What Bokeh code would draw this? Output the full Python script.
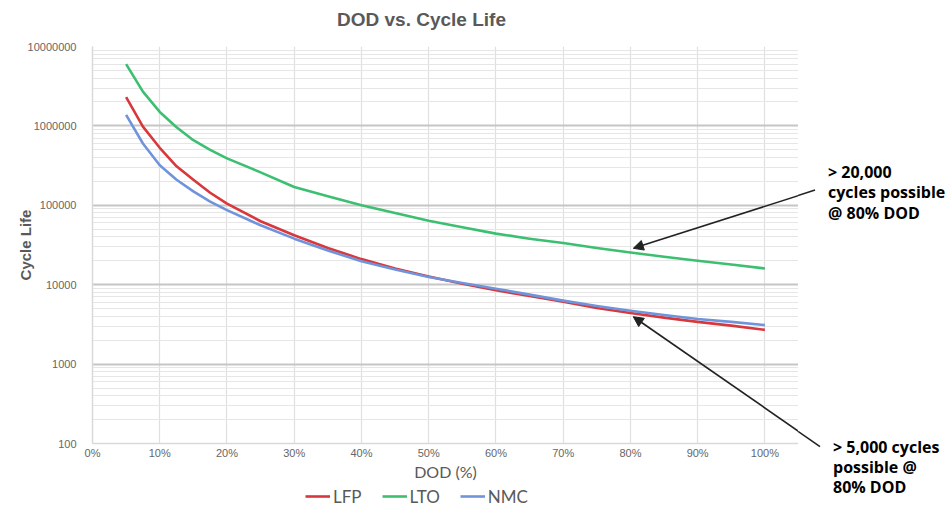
from bokeh.plotting import figure
from bokeh.layouts import row, column
from bokeh.models import (FixedTicker, NumeralTickFormatter, Legend, LegendItem,
                          Arrow, NormalHead, Range1d, Div)
from bokeh.embed import file_html
from bokeh.resources import INLINE

# ---- data ----
dod = [0.05, 0.075, 0.10, 0.125, 0.15, 0.175, 0.20, 0.25, 0.30, 0.35, 0.40, 0.45, 0.50,
       0.55, 0.60, 0.65, 0.70, 0.75, 0.80, 0.85, 0.90, 0.95, 1.00]
lfp = [2.3e6, 9.8e5, 5.3e5, 3.1e5, 2.1e5, 1.44e5, 1.05e5, 6.3e4, 4.2e4, 2.9e4, 2.1e4, 1.6e4, 1.27e4,
       1.03e4, 8.5e3, 7.2e3, 6.1e3, 5.1e3, 4.4e3, 3.85e3, 3.4e3, 3.05e3, 2.7e3]
lto = [6.0e6, 2.7e6, 1.5e6, 9.6e5, 6.6e5, 5.0e5, 3.9e5, 2.6e5, 1.7e5, 1.3e5, 1.0e5, 8.0e4, 6.4e4,
       5.3e4, 4.4e4, 3.8e4, 3.35e4, 2.9e4, 2.55e4, 2.25e4, 2.0e4, 1.8e4, 1.6e4]
nmc = [1.38e6, 6.0e5, 3.2e5, 2.1e5, 1.5e5, 1.11e5, 8.7e4, 5.6e4, 3.8e4, 2.7e4, 1.97e4, 1.55e4, 1.25e4,
       1.05e4, 8.9e3, 7.5e3, 6.3e3, 5.4e3, 4.7e3, 4.15e3, 3.7e3, 3.4e3, 3.1e3]
series_names = ["LFP", "LTO", "NMC"]
x_ticks = [0.0, 0.1, 0.2, 0.3, 0.4, 0.5, 0.6, 0.7, 0.8, 0.9, 1.0]
y_ticks = [100, 1000, 10000, 100000, 1000000, 10000000]
title_text = "DOD vs. Cycle Life"
note_top = ["> 20,000", "cycles possible", "@ 80% DOD"]
note_bottom = ["> 5,000 cycles", "possible @", "80% DOD"]

colors = {"LFP": "#d8383c", "LTO": "#3cbf70", "NMC": "#7094dc"}
GREY = "#595959"
ARROW = "#222222"
TOP = 38  # height of the title strip above the chart

y_minor = [m * 10 ** e for e in range(2, 7) for m in range(2, 10)]

# ---------------- title strip ----------------
title_div = Div(text=(f'<div style="position:relative;width:945px;height:{TOP}px;overflow:hidden;">'
                      f'<span style="position:absolute;left:337px;top:8px;line-height:24px;'
                      f'font-family:\'Liberation Sans\';font-weight:bold;font-size:19px;color:{GREY};'
                      f'white-space:nowrap;">{title_text}</span></div>'),
                width=945, height=TOP, margin=0)

# ---------------- main chart ----------------
p = figure(frame_width=706, frame_height=397, y_axis_type="log", title=None,
           x_range=Range1d(0, 1.05), y_range=Range1d(100, 10000000),
           output_backend="svg", toolbar_location=None,
           min_border_left=92, min_border_right=0,
           min_border_top=8, min_border_bottom=38, margin=0)
p.outline_line_color = None
p.background_fill_color = "white"

p.xaxis.ticker = FixedTicker(ticks=x_ticks)
p.xaxis.formatter = NumeralTickFormatter(format="0%")
p.yaxis.ticker = FixedTicker(ticks=y_ticks, minor_ticks=y_minor)
p.yaxis.formatter = NumeralTickFormatter(format="0")
for ax in (p.xaxis[0], p.yaxis[0]):
    ax.major_tick_line_color = None
    ax.minor_tick_line_color = None
    ax.axis_line_color = "#d9d9d9"
    ax.axis_line_width = 1.5
    ax.major_label_text_color = "#666666"
    ax.major_label_text_font = "Liberation Sans"
    ax.axis_label_text_color = GREY

p.yaxis.major_label_text_font_size = "11px"
p.yaxis.major_label_standoff = 10
p.yaxis.axis_label = "Cycle Life"
p.yaxis.axis_label_text_font = "Liberation Sans"
p.yaxis.axis_label_text_font_style = "bold"
p.yaxis.axis_label_text_font_size = "15px"
p.yaxis.axis_label_standoff = -9

p.xaxis.major_label_text_font_size = "11px"
p.xaxis.major_label_standoff = -3
p.xaxis.axis_label = "DOD (%)"
p.xaxis.axis_label_text_font = "Lato"
p.xaxis.axis_label_text_font_style = "normal"
p.xaxis.axis_label_text_font_size = "16px"
p.xaxis.axis_label_standoff = 0

p.xgrid.grid_line_color = "#e0e0e0"
p.xgrid.grid_line_width = 1.2
p.ygrid.grid_line_color = "#c6c6c6"
p.ygrid.grid_line_width = 1.8
p.ygrid.minor_grid_line_color = "#e6e6e6"
p.ygrid.minor_grid_line_width = 1

series = dict(zip(series_names, [lfp, lto, nmc]))
for name in series_names:
    p.line(dod, series[name], line_color=colors[name], line_width=2.6, line_join="round")

# arrow heads (part inside the plot frame)
p.add_layout(Arrow(x_start=1.05, y_start=1.325e5, x_end=0.8043, y_end=2.873e4,
                   line_color=ARROW, line_width=1.6,
                   end=NormalHead(size=10, fill_color=ARROW, line_color=ARROW)))
p.add_layout(Arrow(x_start=1.05, y_start=142.6, x_end=0.8043, y_end=3.95e3,
                   line_color=ARROW, line_width=1.6,
                   end=NormalHead(size=10, fill_color=ARROW, line_color=ARROW)))

# ---------------- legend strip under the chart ----------------
# the series are re-plotted here only as legend proxies; their values lie far outside
# this strip's 0..1 ranges, so only the legend itself is visible
lf = figure(frame_width=706, frame_height=24, x_range=Range1d(0, 1), y_range=Range1d(0, 1),
            title=None, output_backend="svg", toolbar_location=None,
            x_axis_location=None, y_axis_location=None,
            min_border_left=92, min_border_right=0, min_border_top=0, min_border_bottom=0, margin=0)
lf.outline_line_color = None
lf.grid.visible = False
leg_items = []
for name in series_names:
    r = lf.line(dod, series[name], line_color=colors[name], line_width=2.6)
    leg_items.append(LegendItem(label=name, renderers=[r]))
legend = Legend(items=leg_items, orientation="horizontal", location=(213, 0),
                label_text_font="Lato", label_text_font_size="17px",
                label_text_color=GREY, glyph_width=25, glyph_height=22, label_height=22,
                label_standoff=3, spacing=20, padding=1, margin=0,
                border_line_color=None, background_fill_alpha=0)
lf.add_layout(legend, "center")

# ---------------- right-hand notes (arrow tails + text) ----------------
def note_span(txt, left, center):
    txt = txt.replace("&", "&amp;").replace("<", "&lt;").replace(">", "&gt;")
    return (f'<div style="position:absolute;left:{left}px;top:{center - TOP - 10}px;'
            f'height:20px;line-height:20px;white-space:nowrap;">{txt}</div>')

svg = (f'<svg width="147" height="{511 - TOP}" style="position:absolute;left:0;top:0;">'
       f'<line x1="0" y1="{195.6 - TOP}" x2="17" y2="{190 - TOP}" stroke="{ARROW}" stroke-width="1.6"/>'
       f'<line x1="0" y1="{431.3 - TOP}" x2="22" y2="{446.7 - TOP}" stroke="{ARROW}" stroke-width="1.6"/>'
       '</svg>')
spans = "".join(note_span(t, 30, c) for t, c in zip(note_top, [172, 192, 213]))
spans += "".join(note_span(t, 35, c) for t, c in zip(note_bottom, [447, 467, 487]))
notes = Div(text=(f'<div style="position:relative;width:147px;height:{511 - TOP}px;overflow:hidden;'
                  f'font-family:\'Open Sans\';font-weight:bold;font-size:16px;color:#000;">'
                  f'{svg}{spans}</div>'),
            width=147, height=511 - TOP, margin=0)

layout = column(title_div, row(column(p, lf, spacing=0), notes, spacing=0), spacing=0)
open("out.html", "w").write(file_html(layout, INLINE))
